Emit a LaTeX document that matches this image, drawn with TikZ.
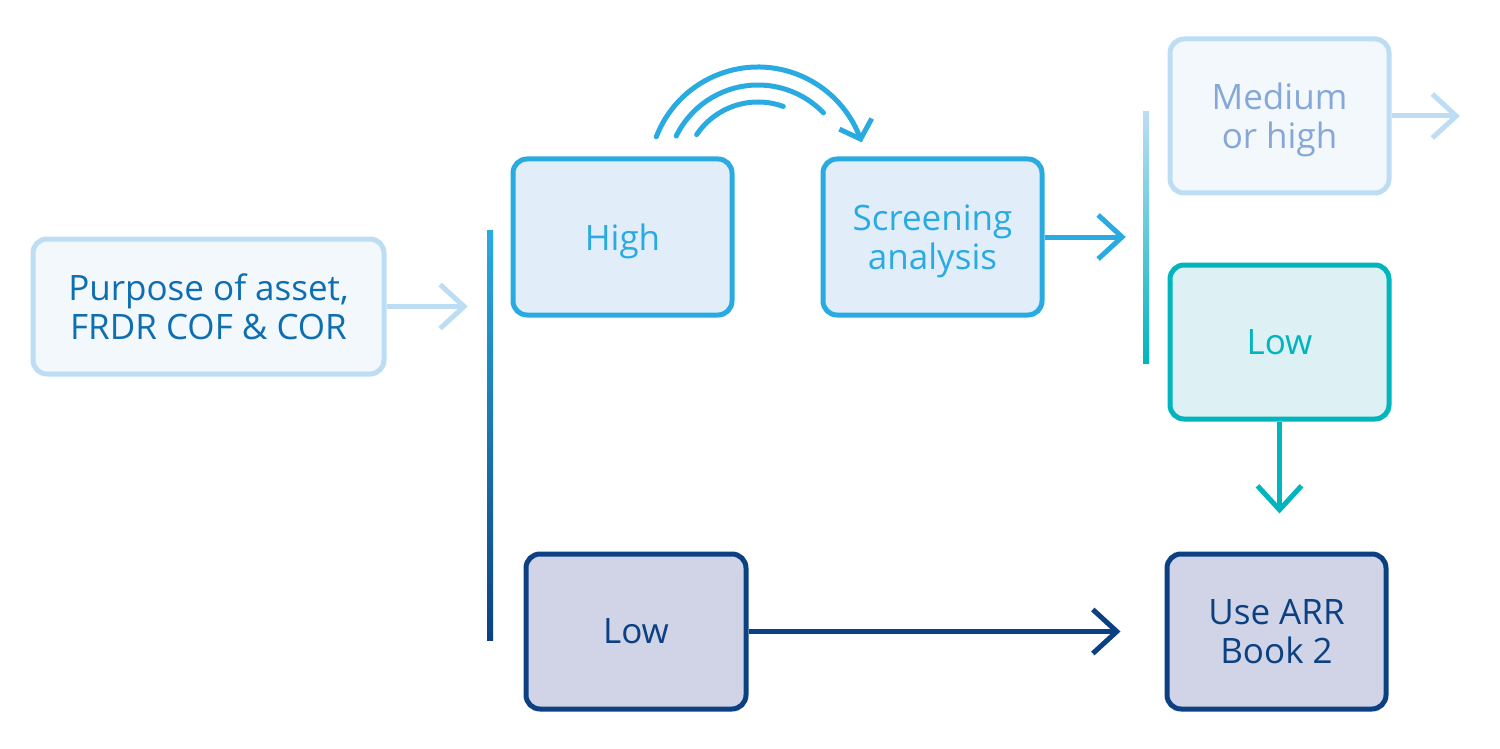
\documentclass[tikz,border=0pt]{standalone}
\usepackage{fontspec}
\setmainfont{Open Sans}
\usetikzlibrary{arrows.meta,bending}
\definecolor{lblue}{HTML}{BDDDF4}
\definecolor{lfill}{HTML}{F3F8FD}
\definecolor{ptext}{HTML}{0D6EB2}
\definecolor{bblue}{HTML}{29ABE2}
\definecolor{bfill}{HTML}{E1EEF9}
\definecolor{mtext}{HTML}{86A8D8}
\definecolor{teal}{HTML}{00B5BD}
\definecolor{tfill}{HTML}{DDF0F4}
\definecolor{navy}{HTML}{0B4182}
\definecolor{nfill}{HTML}{D1D4E7}
\tikzset{
  box/.style={draw, line width=5pt, rounded corners=14pt, inner sep=0pt, align=center,
    font=\fontsize{35}{39}\selectfont, text depth=0pt, minimum width=219pt, minimum height=155pt},
  lightbox/.style={box, draw=lblue, fill=lfill},
  bluebox/.style={box, draw=bblue, fill=bfill, text=bblue},
  tealbox/.style={box, draw=teal, fill=tfill, text=teal},
  navybox/.style={box, draw=navy, fill=nfill, text=navy},
  conn/.style={line width=5pt, -{Straight Barb[length=24pt,width=44pt,line width=5pt]}},
  arcconn/.style={-{Straight Barb[length=16pt,width=34pt,line width=5pt,flex]}},
  arcline/.style={line width=5pt, line cap=round, draw=bblue},
  bar/.style={inner sep=0pt, minimum width=6pt},
}
\begin{document}
\begin{tikzpicture}[x=1pt,y=-1pt]
\useasboundingbox (0,0) rectangle (1500,749);
% nodes
\node[lightbox, text=ptext, minimum width=351pt, minimum height=135pt] (purpose) at (208.5,306.5) {Purpose of asset,\\FRDR COF \& COR};
\node[bluebox, minimum height=156pt] (high) at (622.5,237) {High};
\node[bluebox, minimum height=156pt] (screen) at (932.5,237) {Screening\\analysis};
\node[lightbox, text=mtext, minimum height=154pt] (medium) at (1279.5,116) {Medium\\or high};
\node[tealbox, minimum height=154pt] (lowt) at (1279.5,342) {Low};
\node[navybox] (arr) at (1276.5,631.5) {Use ARR\\Book 2};
\node[navybox, minimum width=220pt] (lown) at (636,631.5) {Low};
% bars
\shade[top color=bblue, bottom color=navy] (487,230) rectangle (493,640);
\node[bar, minimum height=410pt] (bar1) at (490,435) {};
\shade[top color=lblue, bottom color=teal] (1143,112) rectangle (1149,363);
\node[bar, minimum height=251pt] (bar2) at (1146,237.5) {};
% connectors
\draw[conn, lblue, shorten >=19pt] (purpose.east) -- (purpose.east -| bar1.west);
\draw[conn, bblue, shorten >=17pt] (screen.east) -- (screen.east -| bar2.west);
\coordinate (medend) at (1460,116);
\draw[conn, lblue] (medium.east) -- (medend);
\draw[conn, teal, shorten >=38pt] (lowt.south) -- (lowt.south |- arr.north);
\draw[conn, navy, shorten >=44pt] (lown.east) -- (lown.east -| arr.west);
% arcs
\coordinate (arcc) at (758,176);
\draw[arcline, arcconn] ([shift={(-159:109)}]arcc) arc[start angle=-159, end angle=-18, radius=109];
\draw[arcline] ([shift={(-154:91)}]arcc) arc[start angle=-154, end angle=-44, radius=91];
\draw[arcline] ([shift={(-146:74)}]arcc) arc[start angle=-146, end angle=-70, radius=74];
\end{tikzpicture}
\end{document}
